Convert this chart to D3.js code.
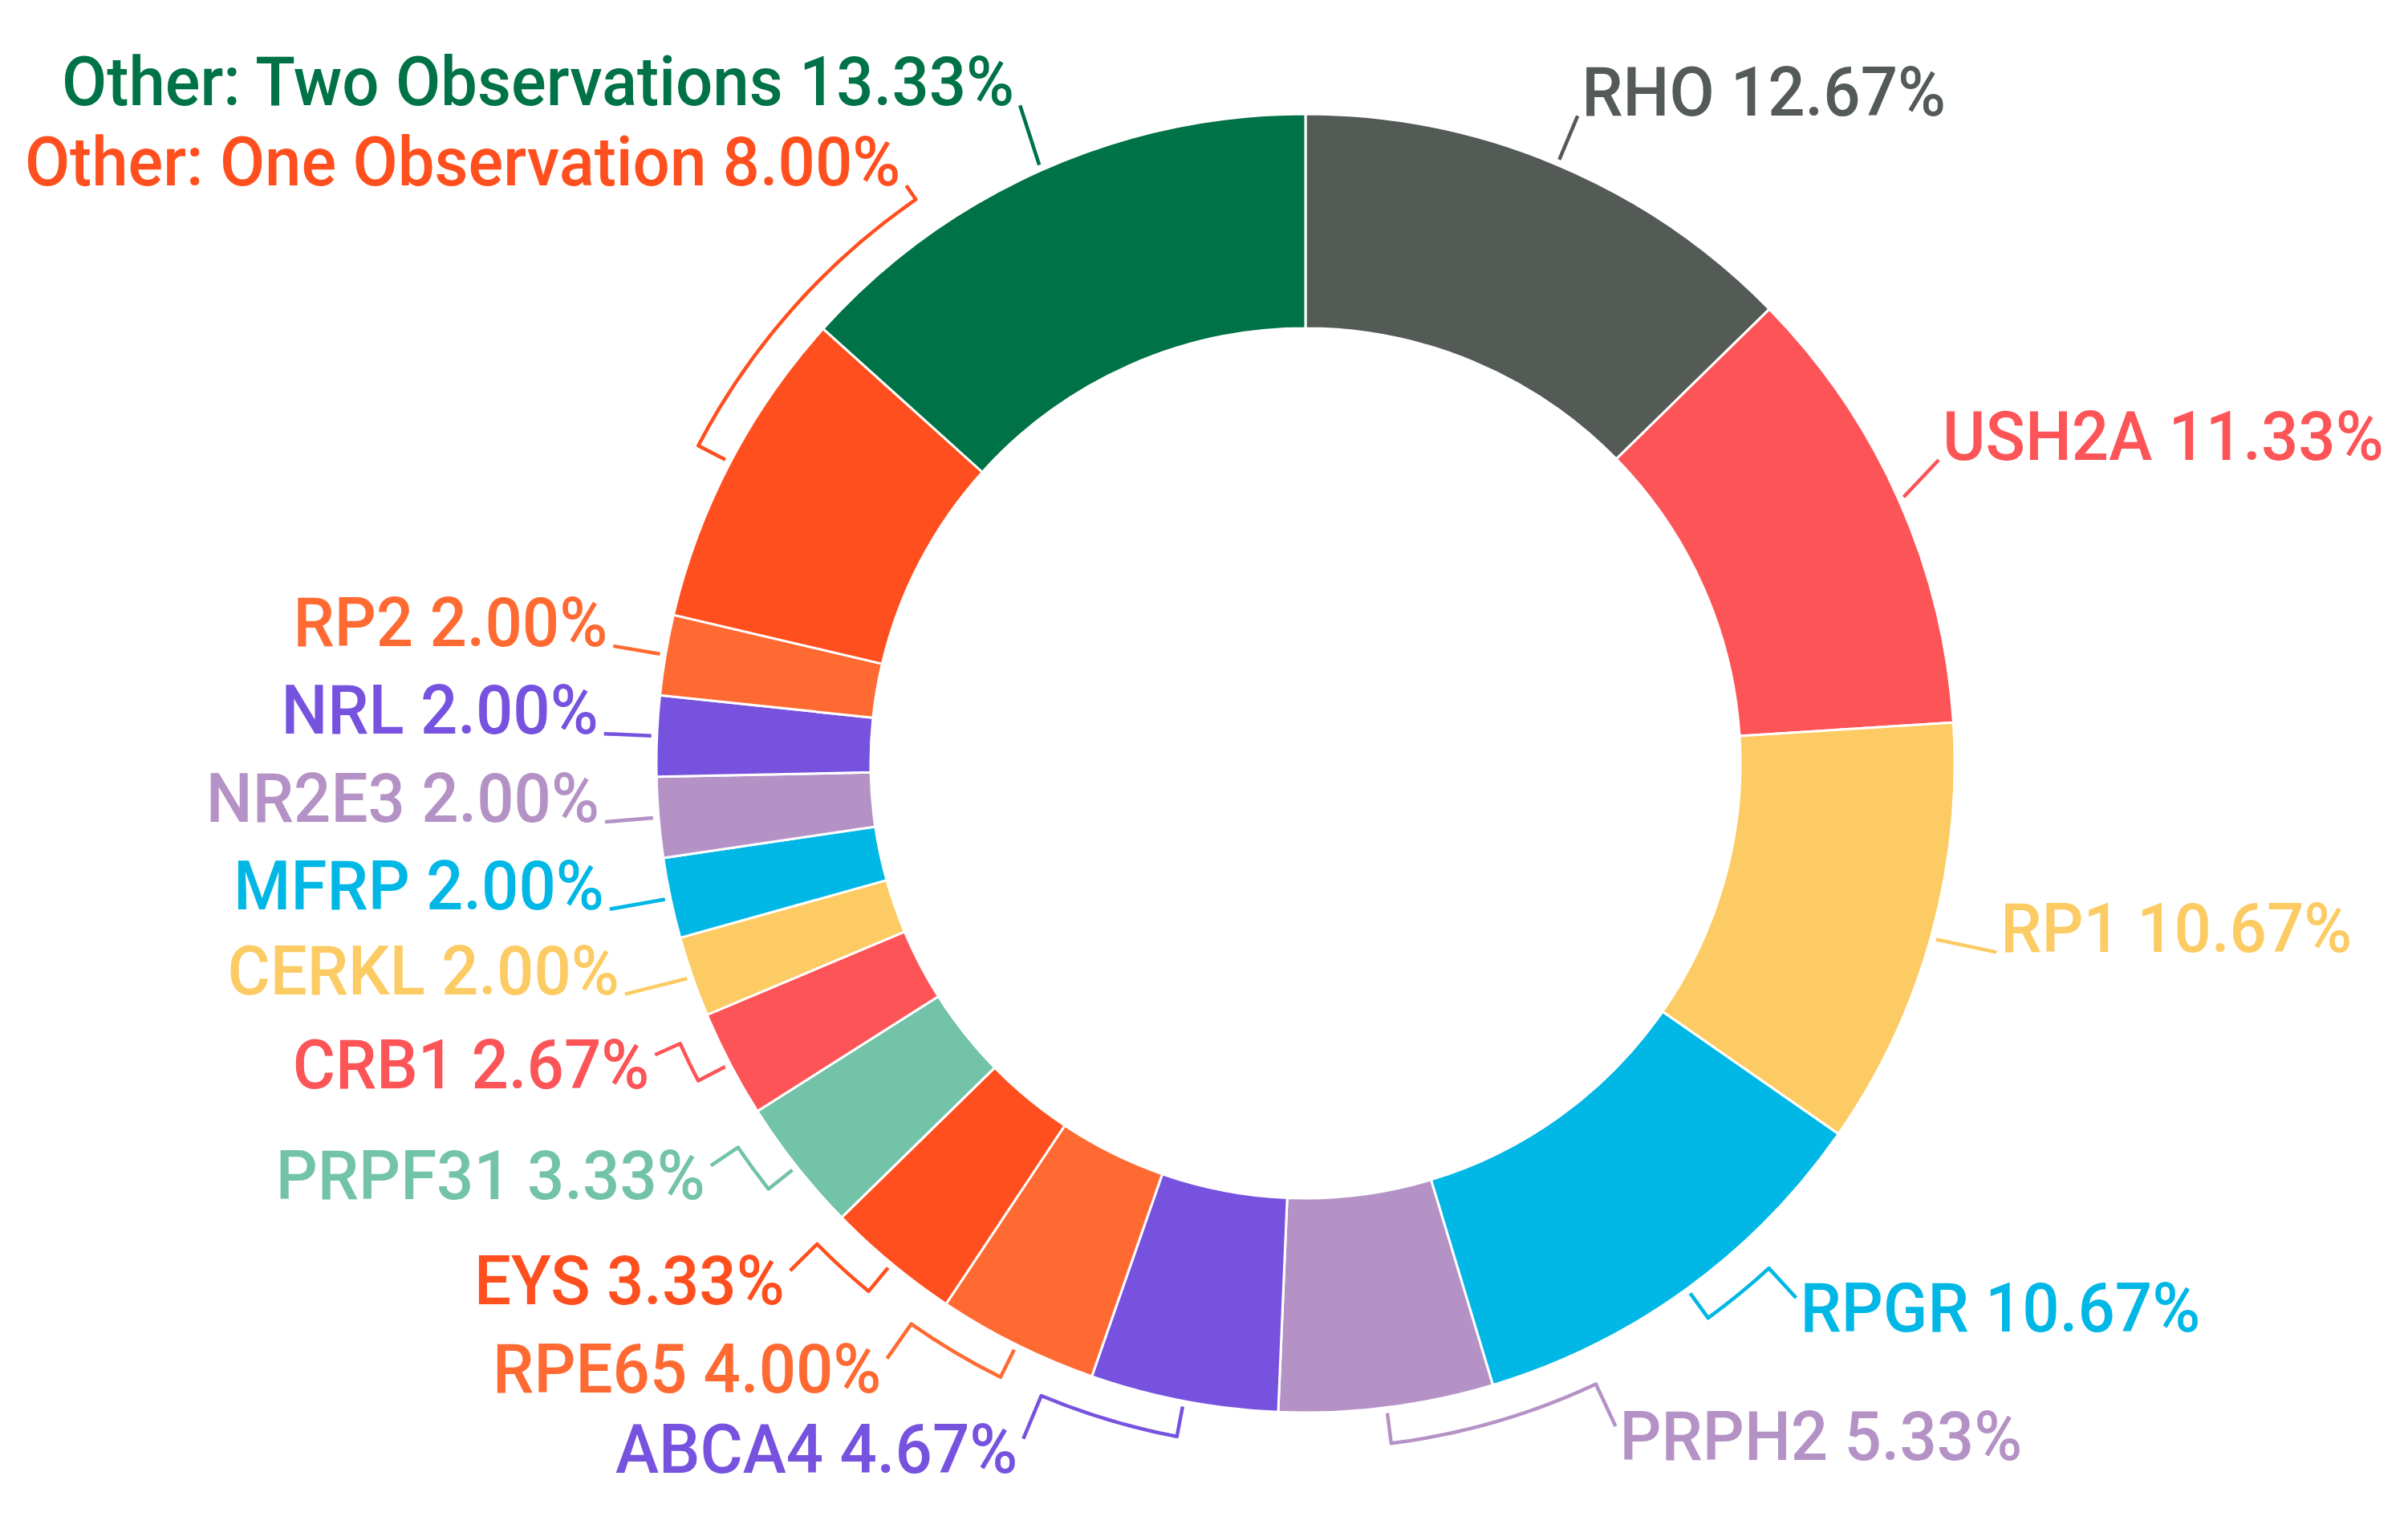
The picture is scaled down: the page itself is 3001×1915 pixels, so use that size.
<!DOCTYPE html>
<html>
<head>
<meta charset="utf-8">
<script src="https://cdn.jsdelivr.net/npm/d3@7"></script>
<style>
  html, body { margin: 0; background: #fff; }
  svg { display: block; }
  text { font-family: Roboto, "Noto Sans", sans-serif; font-size: 85px; font-weight: 500; }
</style>
</head>
<body>
<svg id="chart" width="3001" height="1915"></svg>
<script>
// slices run clockwise from 12 o'clock
const genes = ['RHO', 'USH2A', 'RP1', 'RPGR', 'PRPH2', 'ABCA4', 'RPE65', 'EYS', 'PRPF31',
  'CRB1', 'CERKL', 'MFRP', 'NR2E3', 'NRL', 'RP2',
  'Other: One Observation', 'Other: Two Observations'];
const shares = [12.67, 11.33, 10.67, 10.67, 5.33, 4.67, 4.00, 3.33, 3.33,
  2.67, 2.00, 2.00, 2.00, 2.00, 2.00, 8.00, 13.33];
const sliceColors = ['#545a56', '#fc5457', '#fccb63', '#00b7e5', '#b592c6', '#7652df',
  '#ff6a33', '#ff4f1e', '#72c3a7', '#fc5457', '#fccb63', '#00b7e5', '#b592c6',
  '#7652df', '#ff6a33', '#ff4f1e', '#007247'];

const W = 3001, H = 1915;
const cx = 1627, cy = 951;
const rOuter = 809, rInner = 542;

// label layout settings
const rBase = 875;            // radius where a label's baseline sits naturally
const rClear = 880, clearDy = 20;   // keep-out circle for the label boxes
const capH = 60, gap = 100, padL = 7, padR = 5, margin = 30;
const yMin = 110 - cy, yMax = 1836 - cy;
const squeeze = 0.96;         // labels are a touch narrower than plain Roboto

const svg = d3.select('#chart');
svg.append('rect').attr('width', W).attr('height', H).attr('fill', '#fff');

const rows = genes.map((gene, i) => ({gene: gene, share: shares[i], color: sliceColors[i]}));
const pie = d3.pie().sort(null).value(d => d.share);
const arcs = pie(rows);
const arc = d3.arc().innerRadius(rInner).outerRadius(rOuter);

const g = svg.append('g').attr('transform', `translate(${cx},${cy})`);

g.selectAll('path.slice')
  .data(arcs)
  .enter()
  .append('path')
  .attr('class', 'slice')
  .attr('d', arc)
  .attr('fill', d => d.data.color)
  .attr('stroke', '#fff')
  .attr('stroke-width', 3)
  .attr('stroke-linejoin', 'round');

const leaders = g.append('g');
const texts = g.append('g');

var labels = arcs.map(d => {
  const mid = (d.startAngle + d.endAngle) / 2;
  const t = texts.append('text')
    .text(`${d.data.gene} ${d.data.share.toFixed(2)}%`)
    .attr('fill', d.data.color);
  return {
    d: d,
    mid: mid,
    ang: mid,
    side: Math.sin(mid) >= 0 ? 1 : -1,
    node: t,
    w: t.node().getComputedTextLength() * squeeze
  };
});

// x of the text edge facing the donut, for a baseline yb
function edgeX(l, yb) {
  const top = yb - capH;
  const dy = top > clearDy ? top - clearDy : (yb < clearDy ? clearDy - yb : 0);
  const reach = dy < rClear ? Math.sqrt(rClear * rClear - dy * dy) : 0;
  const nat = rBase * Math.sin(l.ang);
  return l.side > 0 ? Math.max(reach, nat + padR) : Math.min(-reach, nat - padL);
}

// slide labels that run off the page towards the top
labels.forEach(l => {
  const fits = () => {
    const x = edgeX(l, -rBase * Math.cos(l.ang));
    return l.side > 0 ? cx + x + l.w <= W - margin : cx + x - l.w >= margin;
  };
  let n = 0;
  while (!fits() && n++ < 3000) l.ang += l.side > 0 ? -0.002 : 0.002;
  l.yb = -rBase * Math.cos(l.ang);
});

// push overlapping labels apart, away from the horizontal centre line
[1, -1].forEach(side => {
  const col = labels.filter(l => l.side === side).sort((a, b) => a.yb - b.yb);
  if (!col.length) return;
  let k = col.findIndex(l => l.yb >= 0);
  if (k < 0) k = col.length;
  for (let i = Math.max(k, 1); i < col.length; i++) {
    col[i].yb = Math.max(col[i].yb, col[i - 1].yb + gap);
  }
  for (let i = k - 2; i >= 0; i--) {
    col[i].yb = Math.min(col[i].yb, col[i + 1].yb - gap);
  }
  const last = col.length - 1;
  col[last].yb = Math.min(col[last].yb, yMax);
  for (let i = last - 1; i >= 0; i--) col[i].yb = Math.min(col[i].yb, col[i + 1].yb - gap);
  col[0].yb = Math.max(col[0].yb, yMin);
  for (let i = 1; i <= last; i++) col[i].yb = Math.max(col[i].yb, col[i - 1].yb + gap);
});

const pt = (a, r) => [r * Math.sin(a), -r * Math.cos(a)];
const r0 = rOuter + 7, r1 = rOuter + 45;

labels.forEach(l => {
  l.x = edgeX(l, l.yb);
  l.node
    .attr('transform', `translate(${l.x},${l.yb}) scale(${squeeze},1)`)
    .attr('text-anchor', l.side > 0 ? 'start' : 'end');

  const px = l.side > 0 ? l.x - padR : l.x + padL;
  const py = Math.cos(l.mid) < -0.4 ? l.yb - 42 : l.yb;
  let aP = Math.atan2(px, -py);
  while (aP - l.mid > Math.PI) aP -= 2 * Math.PI;
  while (l.mid - aP > Math.PI) aP += 2 * Math.PI;

  const p = d3.path();
  p.moveTo(...pt(l.mid, r0));
  if (Math.abs(aP - l.mid) > 0.03) {
    p.lineTo(...pt(l.mid, r1));
    p.arc(0, 0, r1, l.mid - Math.PI / 2, aP - Math.PI / 2, aP < l.mid);
  }
  p.lineTo(px, py);

  leaders.append('path')
    .attr('d', p.toString())
    .attr('fill', 'none')
    .attr('stroke', l.d.data.color)
    .attr('stroke-width', 4.5)
    .attr('stroke-linejoin', 'round');
});
</script>
</body>
</html>
